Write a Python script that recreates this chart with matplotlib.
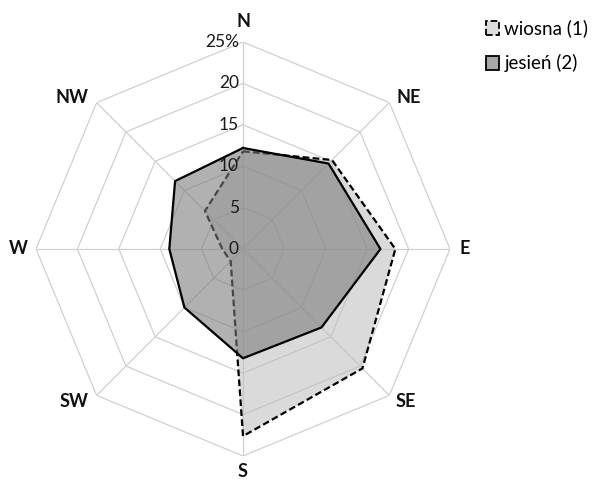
import numpy as np
import matplotlib
matplotlib.use("Agg")
import matplotlib.pyplot as plt
from matplotlib.patches import Patch

plt.rcParams['font.family'] = ['Lato', 'DejaVu Sans']

# wind directions, share of cases in %
kierunki = ['N', 'NE', 'E', 'SE', 'S', 'SW', 'W', 'NW']
wiosna = [11.8, 15.2, 18.4, 20.4, 22.6, 2.1, 2.5, 6.5]
jesien = [12.2, 14.6, 16.6, 13.4, 13.2, 10.0, 8.9, 11.6]
poziomy = [0, 5, 10, 15, 20, 25]
poziomy_txt = ['0', '5', '10', '15', '20', '25%']

theta = np.deg2rad(np.arange(len(kierunki)) * 360 / len(kierunki))
th_closed = np.append(theta, theta[0])

def zamknij(v):
    return np.append(v, v[0])

fig = plt.figure(figsize=(5.93, 4.87), dpi=100)
ax = fig.add_axes([36 / 593, 31 / 487, 414 / 593, 414 / 487], projection='polar')
ax.set_theta_zero_location('N')
ax.set_theta_direction(-1)
ax.set_ylim(0, 25)
ax.grid(False)
ax.spines['polar'].set_visible(False)
ax.set_xticks([])
ax.set_yticks([])
ax.patch.set_alpha(0)

grid_c = '#d0d0d0'
for p in poziomy[1:]:
    ax.plot(th_closed, [p] * len(th_closed), color=grid_c, lw=0.9, zorder=1)
for t in theta:
    ax.plot([t, t], [0, 25], color=grid_c, lw=0.9, zorder=1)

# wiosna - light fill, dashed outline
ax.fill(th_closed, zamknij(wiosna), color='#bdbdbd', alpha=0.55, lw=0, zorder=2)
ax.plot(th_closed, zamknij(wiosna), color='black', lw=1.6, ls=(0, (3.0, 1.5)), zorder=3)

# jesien - darker fill on top, solid outline
ax.fill(th_closed, zamknij(jesien), color='#7a7a7a', alpha=0.58, lw=0, zorder=4)
ax.plot(th_closed, zamknij(jesien), color='black', lw=1.6, zorder=5)

for p, txt in zip(poziomy, poziomy_txt):
    ax.annotate(txt, xy=(0, p), xytext=(-3, 0), textcoords='offset points',
                ha='right', va='center', fontsize=12.5, color='#1a1a1a', zorder=6)

# direction labels: offset (points), alignment
offsets = {
    'N': ((0, 15), 'center'),
    'NE': ((5, 3.5), 'left'),
    'E': ((7, 0), 'left'),
    'SE': ((4.5, -4.5), 'left'),
    'S': ((0, -11), 'center'),
    'SW': ((-6, -4.5), 'right'),
    'W': ((-6, 0), 'right'),
    'NW': ((-6, 3.5), 'right'),
}
for t, k in zip(theta, kierunki):
    off, ha = offsets[k]
    ax.annotate(k, xy=(t, 25), xytext=off, textcoords='offset points',
                ha=ha, va='center', fontsize=13, fontweight='bold', color='#111111')

uchwyty = [
    Patch(facecolor='#dcdcdc', edgecolor='black', linestyle='--', lw=1.3, label='wiosna (1)'),
    Patch(facecolor='#a8a8a8', edgecolor='black', lw=1.3, label='jesień (2)'),
]
fig.legend(handles=uchwyty, loc='upper left', bbox_to_anchor=(478 / 593, 1 - 12 / 487),
           frameon=False, fontsize=13.5, handlelength=0.7, handleheight=0.8,
           handletextpad=0.3, labelspacing=0.9, borderaxespad=0)

fig.savefig('out.png', dpi=100)
